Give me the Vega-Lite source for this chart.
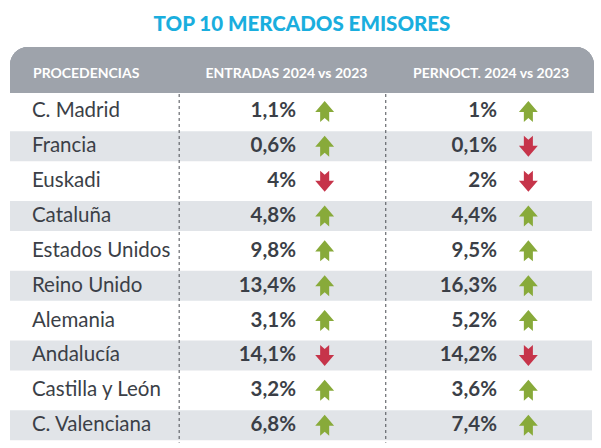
{
  "$schema": "https://vega.github.io/schema/vega-lite/v6.json",
  "padding": {"top": 14, "left": 10, "right": 7, "bottom": 0},
  "background": "white",
  "datasets": {
    "mercados": [
      {"Procedencia": "C. Madrid", "entradas": 0.011, "ent_tendencia": "sube", "pernoct": 0.01, "per_tendencia": "sube"},
      {"Procedencia": "Francia", "entradas": 0.006, "ent_tendencia": "sube", "pernoct": 0.001, "per_tendencia": "baja"},
      {"Procedencia": "Euskadi", "entradas": 0.04, "ent_tendencia": "baja", "pernoct": 0.02, "per_tendencia": "baja"},
      {"Procedencia": "Cataluña", "entradas": 0.048, "ent_tendencia": "sube", "pernoct": 0.044, "per_tendencia": "sube"},
      {"Procedencia": "Estados Unidos", "entradas": 0.098, "ent_tendencia": "sube", "pernoct": 0.095, "per_tendencia": "sube"},
      {"Procedencia": "Reino Unido", "entradas": 0.134, "ent_tendencia": "sube", "pernoct": 0.163, "per_tendencia": "sube"},
      {"Procedencia": "Alemania", "entradas": 0.031, "ent_tendencia": "sube", "pernoct": 0.052, "per_tendencia": "sube"},
      {"Procedencia": "Andalucía", "entradas": 0.141, "ent_tendencia": "baja", "pernoct": 0.142, "per_tendencia": "baja"},
      {"Procedencia": "Castilla y León", "entradas": 0.032, "ent_tendencia": "sube", "pernoct": 0.036, "per_tendencia": "sube"},
      {"Procedencia": "C. Valenciana", "entradas": 0.068, "ent_tendencia": "sube", "pernoct": 0.074, "per_tendencia": "sube"}
    ],
    "cabecera": [
      {"columna": "Procedencias", "titulo": "PROCEDENCIAS"},
      {"columna": "Entradas", "titulo": "ENTRADAS 2024 vs 2023"},
      {"columna": "Pernoctaciones", "titulo": "PERNOCT. 2024 vs 2023"}
    ]
  },
  "spacing": 0,
  "vconcat": [
    {
      "title": {
        "text": "TOP 10 MERCADOS EMISORES",
        "anchor": "middle",
        "frame": "group",
        "font": "Lato",
        "fontSize": 20.5,
        "fontWeight": 900,
        "color": "#1aaede",
        "offset": 12
      },
      "width": 584,
      "height": 46,
      "data": {"name": "cabecera"},
      "layer": [
        {
          "mark": {"type": "rect", "color": "#9ea3ab", "cornerRadiusTopLeft": 18, "cornerRadiusTopRight": 18},
          "encoding": {}
        },
        {
          "transform": [{"filter": "datum.columna === 'Procedencias'"}],
          "mark": {"type": "text", "align": "left", "baseline": "middle", "dy": 4, "color": "white", "fontSize": 14, "fontWeight": "bold", "font": "Lato"},
          "encoding": {
            "x": {"field": "columna", "type": "nominal", "bandPosition": 0.118, "axis": null,
                  "scale": {"type": "band", "domain": ["Procedencias", "Entradas", "Pernoctaciones"], "paddingInner": 0, "paddingOuter": 0}},
            "text": {"field": "titulo"}
          }
        },
        {
          "transform": [{"filter": "datum.columna === 'Entradas'"}],
          "mark": {"type": "text", "align": "center", "baseline": "middle", "dy": 4, "color": "white", "fontSize": 14, "fontWeight": "bold", "font": "Lato"},
          "encoding": {
            "x": {"field": "columna", "type": "nominal", "bandPosition": 0.42, "axis": null},
            "text": {"field": "titulo"}
          }
        },
        {
          "transform": [{"filter": "datum.columna === 'Pernoctaciones'"}],
          "mark": {"type": "text", "align": "center", "baseline": "middle", "dy": 4, "color": "white", "fontSize": 14, "fontWeight": "bold", "font": "Lato"},
          "encoding": {
            "x": {"field": "columna", "type": "nominal", "bandPosition": 0.471, "axis": null},
            "text": {"field": "titulo"}
          }
        }
      ]
    },
    {
      "width": 582,
      "height": 348.6,
      "data": {"name": "mercados"},
      "layer": [
        {
          "transform": [{"window": [{"op": "row_number", "as": "fila"}]}],
          "mark": {"type": "rect"},
          "encoding": {
            "y": {"field": "Procedencia", "type": "nominal", "sort": null, "axis": null,
                  "scale": {"type": "band", "paddingInner": 0.139, "paddingOuter": 0.0695}},
            "color": {"condition": {"test": "datum.fila % 2 === 0", "value": "#e1e4e8"}, "value": "transparent"}
          }
        },
        {
          "data": {"values": [{"tras": "Procedencias"}]},
          "mark": {"type": "rule", "color": "#4a4d52", "strokeWidth": 1, "strokeDash": [3, 3]},
          "encoding": {
            "x": {"field": "tras", "type": "nominal", "bandPosition": 0.872, "axis": null,
                  "scale": {"type": "band", "domain": ["Procedencias", "Entradas", "Pernoctaciones"], "paddingInner": 0, "paddingOuter": 0}}
          }
        },
        {
          "data": {"values": [{"tras": "Entradas"}]},
          "mark": {"type": "rule", "color": "#4a4d52", "strokeWidth": 1, "strokeDash": [3, 3]},
          "encoding": {
            "x": {"field": "tras", "type": "nominal", "bandPosition": 0.937, "axis": null}
          }
        },
        {
          "mark": {"type": "text", "align": "left", "baseline": "middle", "color": "#3b3f47", "fontSize": 20.5, "font": "Lato"},
          "encoding": {
            "y": {"field": "Procedencia", "type": "nominal", "sort": null, "axis": null},
            "x": {"datum": "Procedencias", "type": "nominal", "bandPosition": 0.113, "axis": null},
            "text": {"field": "Procedencia"}
          }
        },
        {
          "mark": {"type": "text", "align": "right", "baseline": "middle", "color": "#3b3f47", "fontSize": 20.5, "fontWeight": "bold", "font": "Lato"},
          "encoding": {
            "y": {"field": "Procedencia", "type": "nominal", "sort": null, "axis": null},
            "x": {"datum": "Entradas", "type": "nominal", "bandPosition": 0.474, "axis": null},
            "text": {"field": "entradas", "type": "quantitative", "format": ".3~%"}
          }
        },
        {
          "mark": {"type": "point", "filled": true, "opacity": 1, "size": 441},
          "encoding": {
            "y": {"field": "Procedencia", "type": "nominal", "sort": null, "axis": null},
            "x": {"datum": "Entradas", "type": "nominal", "bandPosition": 0.622, "axis": null},
            "shape": {"field": "ent_tendencia", "type": "nominal", "legend": null,
                      "scale": {"domain": ["sube", "baja"], "range": ["M0,-1L0.9,0.05L0.43,0.05L0.43,1L0,0.62L-0.43,1L-0.43,0.05L-0.9,0.05Z", "M0,1L0.9,-0.05L0.43,-0.05L0.43,-1L0,-0.62L-0.43,-1L-0.43,-0.05L-0.9,-0.05Z"]}},
            "color": {"field": "ent_tendencia", "type": "nominal", "legend": null,
                      "scale": {"domain": ["sube", "baja"], "range": ["#88aa3a", "#c6344a"]}}
          }
        },
        {
          "mark": {"type": "text", "align": "right", "baseline": "middle", "color": "#3b3f47", "fontSize": 20.5, "fontWeight": "bold", "font": "Lato"},
          "encoding": {
            "y": {"field": "Procedencia", "type": "nominal", "sort": null, "axis": null},
            "x": {"datum": "Pernoctaciones", "type": "nominal", "bandPosition": 0.51, "axis": null},
            "text": {"field": "pernoct", "type": "quantitative", "format": ".3~%"}
          }
        },
        {
          "mark": {"type": "point", "filled": true, "opacity": 1, "size": 441},
          "encoding": {
            "y": {"field": "Procedencia", "type": "nominal", "sort": null, "axis": null},
            "x": {"datum": "Pernoctaciones", "type": "nominal", "bandPosition": 0.672, "axis": null},
            "shape": {"field": "per_tendencia", "type": "nominal", "legend": null},
            "color": {"field": "per_tendencia", "type": "nominal", "legend": null}
          }
        }
      ]
    }
  ],
  "config": {
    "view": {"stroke": null},
    "locale": {"number": {"decimal": ",", "thousands": ".", "grouping": [3], "currency": ["", " €"]}}
  }
}
